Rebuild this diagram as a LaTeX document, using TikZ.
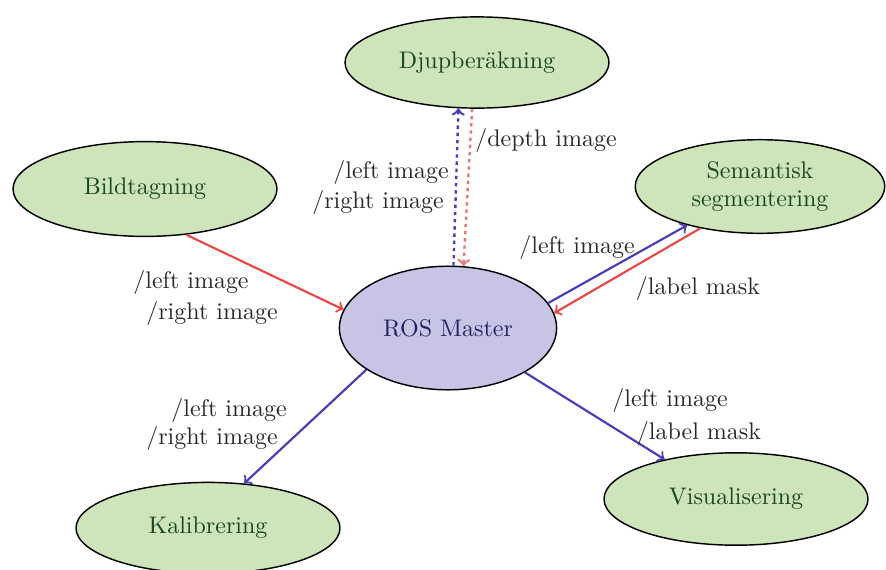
\documentclass[tikz,border=0pt]{standalone}
\usetikzlibrary{shapes.geometric}
\definecolor{nodegreen}{RGB}{206,228,186}
\definecolor{nodeviolet}{RGB}{200,196,230}
\definecolor{txtgreen}{RGB}{25,70,35}
\definecolor{txtblue}{RGB}{35,35,100}
\definecolor{arrred}{RGB}{232,72,72}
\definecolor{arrblue}{RGB}{72,62,182}
\definecolor{dotred}{RGB}{232,120,120}
\definecolor{lbl}{RGB}{45,40,40}
\tikzset{
  proc/.style={ellipse, draw=black, line width=0.6pt, fill=nodegreen, text=txtgreen, align=center, inner sep=0pt},
  master/.style={ellipse, draw=black, line width=0.6pt, fill=nodeviolet, text=txtblue, inner sep=0pt},
  redarr/.style={->, line width=0.9pt, arrred},
  bluearr/.style={->, line width=0.9pt, arrblue},
  reddot/.style={->, line width=1pt, dotred, dash pattern=on 1.4pt off 1.6pt},
  bluedot/.style={->, line width=1pt, arrblue, dash pattern=on 1.4pt off 1.6pt},
  lab/.style={text=lbl, inner sep=0pt}
}
\begin{document}
\begin{tikzpicture}[x=0.4167pt, y=-0.4167pt]
\useasboundingbox (0,0) rectangle (886,569);
\node[proc, minimum width=110pt, minimum height=38pt] (djup) at (477,62.5) {Djupber\"akning};
\node[proc, minimum width=110pt, minimum height=39.5pt] (bild) at (145,189) {Bildtagning};
\node[proc, minimum width=104pt, minimum height=39pt] (sem) at (760,186.5) {Semantisk\\segmentering};
\node[master, minimum width=90.5pt, minimum height=51.5pt] (ros) at (448,328) {ROS Master};
\node[proc, minimum width=110pt, minimum height=38pt] (kal) at (208,528) {Kalibrering};
\node[proc, minimum width=110pt, minimum height=38.5pt] (vis) at (736,499) {Visualisering};

\draw[redarr] (bild.-48) -- (ros.170);
\draw[bluedot] (ros.85.4) -- (djup.-112.9);
\draw[reddot] (djup.-96.3) -- (ros.76.2);
\draw[bluearr] (ros.14) -- (sem.-152.2);
\draw[redarr] (sem.-145.3) -- (ros.8.5);
\draw[bluearr] (ros.-153.2) -- (kal.51.7);
\draw[bluearr] (ros.-30.8) -- (vis.151.2);

\node[lab] (l1) at (191,282) {/left image};
\node[lab] (l2) at (212,313) {/right image};
\node[lab] (l3) at (391,172) {/left image};
\node[lab] (l4) at (378,202) {/right image};
\node[lab] (l5) at (546,140) {/depth image};
\node[lab] (l6) at (577,247) {/left image};
\node[lab] (l7) at (698,288) {/label mask};
\node[lab] (l8) at (229,410) {/left image};
\node[lab] (l9) at (212,438) {/right image};
\node[lab] (l10) at (670,400) {/left image};
\node[lab] (l11) at (699,433) {/label mask};
\end{tikzpicture}
\end{document}
